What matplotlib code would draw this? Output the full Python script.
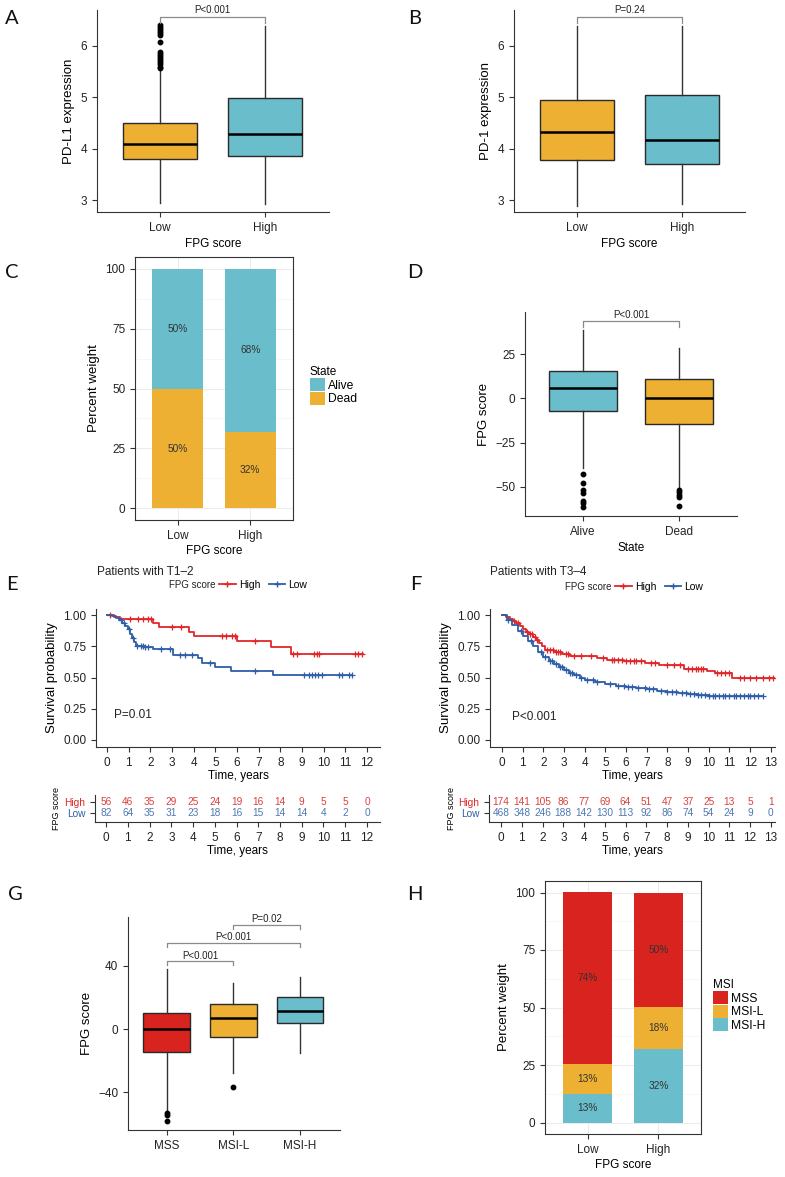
import numpy as np
import matplotlib
matplotlib.use('Agg')
import matplotlib.pyplot as plt
from matplotlib.lines import Line2D
from matplotlib.patches import Patch
from matplotlib.ticker import MultipleLocator

plt.rcParams['font.family'] = ['Liberation Sans', 'DejaVu Sans']
plt.rcParams['axes.linewidth'] = 0.8
plt.rcParams['axes.edgecolor'] = '#333333'
plt.rcParams['xtick.color'] = '#333333'
plt.rcParams['ytick.color'] = '#333333'
plt.rcParams['xtick.labelcolor'] = '#222222'
plt.rcParams['ytick.labelcolor'] = '#222222'
plt.rcParams['xtick.labelsize'] = 8.5
plt.rcParams['ytick.labelsize'] = 8.5
plt.rcParams['xtick.major.size'] = 3.5
plt.rcParams['ytick.major.size'] = 3.5
plt.rcParams['xtick.major.width'] = 0.8
plt.rcParams['ytick.major.width'] = 0.8

ORANGE = '#EDB032'
TEAL = '#6ABDCB'
RED = '#D8231E'
KM_RED = '#E0262A'
KM_BLUE = '#2F5EA8'

# ---- data ----
fpg_groups = ['Low', 'High']

# A: PD-L1 expression boxplots
pdl1_low = dict(med=4.10, q1=3.80, q3=4.50, whislo=2.95, whishi=5.55,
                fliers=[6.40, 6.37, 6.33, 6.30, 6.26, 6.22, 6.08, 5.89, 5.85,
                        5.80, 5.76, 5.72, 5.68, 5.64, 5.60, 5.57])
pdl1_high = dict(med=4.28, q1=3.85, q3=4.98, whislo=2.92, whishi=6.38, fliers=[])

# B: PD-1 expression boxplots
pd1_low = dict(med=4.33, q1=3.79, q3=4.95, whislo=2.88, whishi=6.38, fliers=[])
pd1_high = dict(med=4.18, q1=3.70, q3=5.05, whislo=2.93, whishi=6.38, fliers=[])

# C: state by FPG group (percent)
state_labels = ['Alive', 'Dead']
dead_pct = [49.8, 32.0]
alive_pct = [50.2, 68.0]

# D: FPG score by state
states = ['Alive', 'Dead']
fpg_alive = dict(med=5.7, q1=-7.2, q3=15.5, whislo=-39.2, whishi=38.8,
                 fliers=[-42.6, -47.9, -52.0, -53.4, -57.8, -59.3, -61.5])
fpg_dead = dict(med=0.4, q1=-14.6, q3=10.8, whislo=-51.0, whishi=28.4,
                fliers=[-51.7, -53.0, -54.4, -55.9, -60.6])

# E: KM T1-2
e_high_t = [0, 0.3, 0.6, 2.1, 2.4, 3.8, 4.0, 6.0, 7.55, 8.5]
e_high_s = [1.0, 0.982, 0.966, 0.935, 0.906, 0.868, 0.835, 0.792, 0.745, 0.688]
e_high_end = 11.8
e_high_cens = [0.15, 1.05, 1.45, 1.65, 1.9, 2.05, 3.0, 3.4, 5.3, 5.5, 5.75, 5.9,
               6.85, 8.6, 8.75, 9.55, 9.7, 9.78, 11.45, 11.6, 11.75]
e_low_t = [0, 0.25, 0.4, 0.55, 0.7, 0.85, 0.95, 1.05, 1.15, 1.25, 1.35, 1.75,
           2.1, 3.05, 4.2, 4.4, 5.0, 5.7, 7.65]
e_low_s = [1.0, 0.99, 0.975, 0.96, 0.94, 0.915, 0.885, 0.85, 0.815, 0.785, 0.755,
           0.745, 0.73, 0.68, 0.655, 0.62, 0.585, 0.555, 0.517]
e_low_end = 11.3
e_low_cens = [0.65, 0.8, 1.0, 1.2, 1.4, 1.55, 1.65, 1.75, 1.9, 2.5, 2.9, 3.35,
              3.6, 3.9, 4.75, 6.85, 9.07, 9.3, 9.45, 9.6, 9.75, 9.9, 10.7,
              10.85, 11.15, 11.3]
e_risk_times = list(range(0, 13))
e_risk_high = [56, 46, 35, 29, 25, 24, 19, 16, 14, 9, 5, 5, 0]
e_risk_low = [82, 64, 35, 31, 23, 18, 16, 15, 14, 14, 4, 2, 0]

# F: KM T3-4
f_high_t = [0, 0.2, 0.4, 0.55, 0.7, 0.85, 1.0, 1.15, 1.3, 1.5, 1.65, 1.8, 1.95,
            2.1, 2.5, 2.9, 3.3, 4.6, 5.1, 5.9, 6.9, 7.6, 8.8, 9.9, 10.3, 11.1]
f_high_s = [1.0, 0.985, 0.97, 0.955, 0.935, 0.91, 0.885, 0.865, 0.845, 0.825,
            0.80, 0.775, 0.75, 0.72, 0.705, 0.69, 0.67, 0.655, 0.64, 0.635,
            0.62, 0.60, 0.57, 0.555, 0.54, 0.50]
f_high_end = 13.3
f_high_cens = [0.6, 0.75, 1.2, 1.35, 1.45, 1.6, 1.7, 2.2, 2.3, 2.45, 2.6, 2.7,
               2.8, 3.1, 3.2, 3.5, 3.8, 4.3, 4.9, 5.3, 5.4, 5.6, 5.8, 6.0, 6.2,
               6.4, 6.5, 6.7, 7.2, 7.4, 8.0, 8.3, 8.6, 9.0, 9.2, 9.4, 9.5, 9.6,
               9.7, 10.4, 10.6, 10.8, 11.0, 11.5, 11.7, 12.0, 12.3, 12.6, 12.9, 13.1]
f_low_t = [0, 0.25, 0.5, 0.75, 1.0, 1.25, 1.5, 1.75, 2.0, 2.25, 2.5, 2.75, 3.0,
           3.25, 3.5, 3.75, 4.0, 4.5, 5.0, 5.5, 6.0, 6.5, 7.0, 7.5, 8.0, 8.5,
           9.0, 9.5, 10.0]
f_low_s = [1.0, 0.96, 0.92, 0.875, 0.83, 0.79, 0.75, 0.705, 0.665, 0.635, 0.608,
           0.583, 0.56, 0.54, 0.52, 0.50, 0.48, 0.463, 0.445, 0.433, 0.425,
           0.413, 0.405, 0.395, 0.385, 0.378, 0.37, 0.362, 0.352]
f_low_end = 12.6
f_low_cens = [0.3, 0.9, 1.4, 1.9, 2.1, 2.3, 2.4, 2.6, 2.8, 2.9, 3.1, 3.3, 3.4,
              3.6, 3.8, 4.1, 4.4, 4.6, 5.2, 5.6, 5.9, 6.1, 6.3, 6.6, 6.9, 7.1,
              7.3, 7.7, 8.0, 8.2, 8.4, 8.7, 8.9, 9.1, 9.3, 9.5, 9.6, 9.8, 10.0,
              10.2, 10.3, 10.5, 10.7, 10.8, 11.0, 11.2, 11.3, 11.5, 11.7, 11.9,
              12.0, 12.2, 12.4, 12.6]
f_risk_times = list(range(0, 14))
f_risk_high = [174, 141, 105, 86, 77, 69, 64, 51, 47, 37, 25, 13, 5, 1]
f_risk_low = [468, 348, 246, 188, 142, 130, 113, 92, 86, 74, 54, 24, 9, 0]

# G: FPG score by MSI
msi_groups = ['MSS', 'MSI-L', 'MSI-H']
fpg_mss = dict(med=0.0, q1=-14.8, q3=9.9, whislo=-52.5, whishi=38.1,
               fliers=[-53.5, -54.6, -58.4])
fpg_msil = dict(med=7.0, q1=-4.9, q3=16.1, whislo=-28.1, whishi=29.0, fliers=[-36.6])
fpg_msih = dict(med=11.2, q1=3.8, q3=20.1, whislo=-15.4, whishi=32.8, fliers=[])

# H: MSI by FPG group (percent)
msih_pct = [12.6, 32.0]
msil_pct = [12.9, 18.4]
mss_pct = [74.5, 49.6]

# ---- layout helpers ----
W, H = 785, 1177
fig = plt.figure(figsize=(W / 100, H / 100), dpi=100)


def rect(L, T, R, B):
    return [L / W, 1 - B / H, (R - L) / W, (B - T) / H]


def fx(x):
    return x / W


def fy(y):
    return 1 - y / H


def panel_letter(x, y, s):
    fig.text(fx(x), fy(y), s, fontsize=14.5, family=['Lato', 'DejaVu Sans'],
             va='center', ha='left', color='#111111')


def box_panel(r, stats, colors, labels, xlim, ylim, yticks, ylabel, xlabel):
    ax = fig.add_axes(r)
    pos = list(range(1, len(stats) + 1))
    bp = ax.bxp(stats, positions=pos, widths=0.7, patch_artist=True,
                showcaps=False,
                boxprops=dict(edgecolor='#2a2a2a', linewidth=1.0),
                medianprops=dict(color='black', linewidth=1.8),
                whiskerprops=dict(color='#333333', linewidth=1.0),
                flierprops=dict(marker='o', markerfacecolor='black',
                                markeredgecolor='black', markersize=3.2))
    for patch, c in zip(bp['boxes'], colors):
        patch.set_facecolor(c)
    ax.set_xticks(pos, labels)
    ax.set_xlim(*xlim)
    ax.set_ylim(*ylim)
    ax.set_yticks(yticks)
    for s in ['top', 'right']:
        ax.spines[s].set_visible(False)
    ax.set_ylabel(ylabel, fontsize=9.5, labelpad=4)
    if xlabel:
        ax.set_xlabel(xlabel, fontsize=8.5, labelpad=3)
    return ax


def bracket(ax, x1, x2, y, h, text):
    ax.plot([x1, x1, x2, x2], [y - h, y, y, y - h], color='#8a8a8a', lw=0.9,
            clip_on=False)
    ax.text((x1 + x2) / 2, y + h * 0.25, text, ha='center', va='bottom',
            fontsize=7, color='#222222', clip_on=False)


def stacked_panel(r, layers, colors, names, xlim, title, legend_xy):
    ax = fig.add_axes(r)
    pos = np.arange(1, len(fpg_groups) + 1)
    bottom = np.zeros(len(pos))
    for vals, c in zip(layers, colors):
        vals = np.array(vals)
        ax.bar(pos, vals, bottom=bottom, width=0.7, color=c, zorder=2)
        for p, v, b in zip(pos, vals, bottom):
            ax.text(p, b + v / 2, f'{round(v)}%', ha='center', va='center',
                    fontsize=7.3, color='#333333', zorder=3)
        bottom += vals
    ax.set_xlim(*xlim)
    ax.set_ylim(-5, 105)
    ax.set_yticks([0, 25, 50, 75, 100])
    ax.yaxis.set_minor_locator(MultipleLocator(12.5))
    ax.tick_params(which='minor', length=0)
    ax.set_xticks(pos, fpg_groups)
    ax.set_axisbelow(True)
    ax.grid(which='major', color='#EBEBEB', lw=0.7, zorder=0)
    ax.grid(which='minor', axis='y', color='#F4F4F4', lw=0.5, zorder=0)
    ax.set_ylabel('Percent weight', fontsize=9.5, labelpad=4)
    ax.set_xlabel('FPG score', fontsize=8.5, labelpad=2)
    handles = [Patch(facecolor=c, edgecolor='none') for c in colors[::-1]]
    ax.legend(handles, names, title=title, loc='upper left',
              bbox_to_anchor=(fx(legend_xy[0]), fy(legend_xy[1])),
              bbox_transform=fig.transFigure, frameon=False,
              fontsize=8.7, title_fontsize=8.5, handlelength=1.25,
              handleheight=1.3, handletextpad=0.2, labelspacing=0.0,
              borderpad=0, borderaxespad=0, alignment='left')
    return ax


def km_panel(r, rr, curves, tmax, xlim, risk_times, risk_rows, ptext, ptxt_xy,
             title, title_xy, leg_x, leg_y):
    ax = fig.add_axes(r)
    for t, s, end, cens, c in curves:
        tt = list(t) + [end]
        ss = list(s) + [s[-1]]
        ax.step(tt, ss, where='post', color=c, lw=1.3)
        idx = np.searchsorted(t, cens, side='right') - 1
        ax.plot(cens, np.array(s)[idx], ls='none', marker='+', color=c,
                markersize=4.5, markeredgewidth=0.9)
    ax.set_xlim(*xlim)
    ax.set_ylim(-0.056, 1.048)
    ax.set_yticks([0, 0.25, 0.5, 0.75, 1.0], ['0.00', '0.25', '0.50', '0.75', '1.00'])
    ax.set_xticks(range(0, tmax + 1))
    for s in ['top', 'right']:
        ax.spines[s].set_visible(False)
    ax.set_ylabel('Survival probability', fontsize=9.5, labelpad=4)
    ax.set_xlabel('Time, years', fontsize=8.5, labelpad=1)
    ax.text(ptxt_xy[0], ptxt_xy[1], ptext, fontsize=8.5, ha='left', va='center',
            color='#222222')
    fig.text(fx(title_xy[0]), fy(title_xy[1]), title, fontsize=8.5, va='center',
             ha='left', color='#222222')
    fig.text(fx(leg_x), fy(leg_y), 'FPG score', fontsize=7, va='center',
             ha='left', color='#222222')
    handles = [Line2D([], [], color=KM_RED, lw=1.3, marker='+', markersize=4.5),
               Line2D([], [], color=KM_BLUE, lw=1.3, marker='+', markersize=4.5)]
    ax.legend(handles, ['High', 'Low'], ncol=2, frameon=False, fontsize=7.5,
              loc='center left', bbox_to_anchor=(fx(leg_x + 50), fy(leg_y)),
              bbox_transform=fig.transFigure, handlelength=1.6,
              handletextpad=0.3, columnspacing=0.8, borderpad=0, borderaxespad=0)

    rax = fig.add_axes(rr)
    for row_y, vals, c in risk_rows:
        for t, v in zip(risk_times, vals):
            rax.text(t, row_y, str(v), ha='center', va='center', fontsize=7.3,
                     color=c)
    rax.set_xlim(*xlim)
    rax.set_ylim(-0.82, 1.64)
    rax.set_yticks([1, 0], ['High', 'Low'], fontsize=7.3)
    for lab, c in zip(rax.get_yticklabels(), [KM_RED, KM_BLUE]):
        lab.set_color(c)
    rax.set_xticks(range(0, tmax + 1))
    for s in ['top', 'right']:
        rax.spines[s].set_visible(False)
    rax.set_ylabel('FPG score', fontsize=6.5, labelpad=2)
    rax.set_xlabel('Time, years', fontsize=8.5, labelpad=1)
    return ax


# ---- A ----
axA = box_panel(rect(97, 10, 329, 212), [pdl1_low, pdl1_high], [ORANGE, TEAL],
                fpg_groups, (0.4, 2.61), (2.77, 6.70), [3, 4, 5, 6],
                'PD-L1 expression', 'FPG score')
bracket(axA, 1, 2, 6.57, 0.12, 'P<0.001')
panel_letter(5, 18, 'A')

# ---- B ----
axB = box_panel(rect(514, 10, 745, 212), [pd1_low, pd1_high], [ORANGE, TEAL],
                fpg_groups, (0.4, 2.6), (2.77, 6.70), [3, 4, 5, 6],
                'PD-1 expression', 'FPG score')
bracket(axB, 1, 2, 6.57, 0.12, 'P=0.24')
panel_letter(408, 18, 'B')

# ---- C ----
stacked_panel(rect(135, 257, 293, 520), [dead_pct, alive_pct], [ORANGE, TEAL],
              ['Alive', 'Dead'], (0.41, 2.59), 'State', (310, 366))
panel_letter(5, 272, 'C')

# ---- D ----
axD = box_panel(rect(525, 312, 737, 516), [fpg_alive, fpg_dead], [TEAL, ORANGE],
                states, (0.4, 2.6), (-66.4, 48.7), [-50, -25, 0, 25],
                'FPG score', 'State')
bracket(axD, 1, 2, 43.6, 3.2, 'P<0.001')
panel_letter(407, 272, 'D')

# ---- E ----
km_panel(rect(96, 609, 380, 747), rect(95, 795, 380, 822),
         [(e_high_t, e_high_s, e_high_end, e_high_cens, KM_RED),
          (e_low_t, e_low_s, e_low_end, e_low_cens, KM_BLUE)],
         12, (-0.51, 12.6), e_risk_times,
         [(1, e_risk_high, '#D9413F'), (0, e_risk_low, '#4F78B4')],
         'P=0.01', (0.3, 0.2), 'Patients with T1\u20132', (97, 572), 169, 585)
panel_letter(6, 585, 'E')

# ---- F ----
km_panel(rect(490, 609, 775, 747), rect(489, 795, 775, 822),
         [(f_high_t, f_high_s, f_high_end, f_high_cens, KM_RED),
          (f_low_t, f_low_s, f_low_end, f_low_cens, KM_BLUE)],
         13, (-0.58, 13.2), f_risk_times,
         [(1, f_risk_high, '#D9413F'), (0, f_risk_low, '#4F78B4')],
         'P<0.001', (0.48, 0.18), 'Patients with T3\u20134', (490, 572), 565, 587)
panel_letter(410, 585, 'F')

# ---- G ----
axG = box_panel(rect(128, 917, 340, 1130), [fpg_mss, fpg_msil, fpg_msih],
                [RED, ORANGE, TEAL], msi_groups, (0.42, 3.6), (-64, 71),
                [-40, 0, 40], 'FPG score', None)
bracket(axG, 1, 2, 42.8, 2.5, 'P<0.001')
bracket(axG, 1, 3, 54.4, 2.5, 'P<0.001')
bracket(axG, 2, 3, 66.0, 2.5, 'P=0.02')
panel_letter(8, 895, 'G')

# ---- H ----
stacked_panel(rect(545, 881, 701, 1134), [msih_pct, msil_pct, mss_pct],
              [TEAL, ORANGE, RED], ['MSS', 'MSI-L', 'MSI-H'], (0.4, 2.6),
              'MSI', (713, 979))
panel_letter(407, 895, 'H')

fig.savefig('out.png', dpi=100)
